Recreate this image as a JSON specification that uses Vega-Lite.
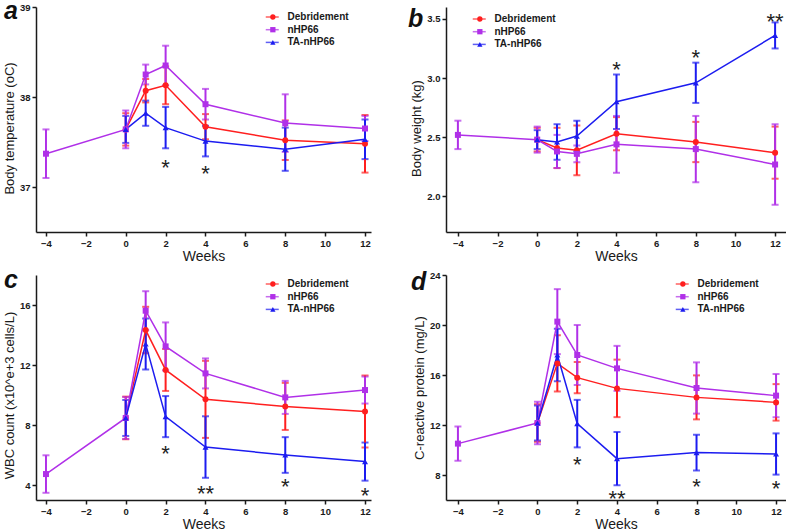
{
  "$schema": "https://vega.github.io/schema/vega-lite/v6.json",
  "padding": {"left": 3, "top": -1, "right": 0, "bottom": 0},
  "background": "white",
  "columns": 2,
  "spacing": {"row": 43, "column": 75},
  "bounds": "flush",
  "resolve": {
    "scale": {"color": "independent", "fill": "independent", "shape": "independent"},
    "legend": {"color": "independent", "fill": "independent", "shape": "independent"}
  },
  "datasets": {
    "a": [
      {"group": "Debridement", "week": 0, "mean": 37.64, "sd": 0.18},
      {"group": "Debridement", "week": 1, "mean": 38.07, "sd": 0.13},
      {"group": "Debridement", "week": 2, "mean": 38.13, "sd": 0.21},
      {"group": "Debridement", "week": 4, "mean": 37.67, "sd": 0.14},
      {"group": "Debridement", "week": 8, "mean": 37.52, "sd": 0.22},
      {"group": "Debridement", "week": 12, "mean": 37.48, "sd": 0.32},
      {"group": "nHP66", "week": -4, "mean": 37.37, "sd": 0.27},
      {"group": "nHP66", "week": 0, "mean": 37.64, "sd": 0.21},
      {"group": "nHP66", "week": 1, "mean": 38.25, "sd": 0.11},
      {"group": "nHP66", "week": 2, "mean": 38.35, "sd": 0.22},
      {"group": "nHP66", "week": 4, "mean": 37.92, "sd": 0.17},
      {"group": "nHP66", "week": 8, "mean": 37.71, "sd": 0.32},
      {"group": "nHP66", "week": 12, "mean": 37.65, "sd": 0.14},
      {"group": "TA-nHP66", "week": 0, "mean": 37.64, "sd": 0.15},
      {"group": "TA-nHP66", "week": 1, "mean": 37.82, "sd": 0.14},
      {"group": "TA-nHP66", "week": 2, "mean": 37.66, "sd": 0.23},
      {"group": "TA-nHP66", "week": 4, "mean": 37.51, "sd": 0.17},
      {"group": "TA-nHP66", "week": 8, "mean": 37.42, "sd": 0.24},
      {"group": "TA-nHP66", "week": 12, "mean": 37.53, "sd": 0.22}
    ],
    "aStars": [
      {"week": 2, "mean": 37.28, "label": "*"},
      {"week": 4, "mean": 37.21, "label": "*"}
    ],
    "b": [
      {"group": "Debridement", "week": 0, "mean": 2.48, "sd": 0.10},
      {"group": "Debridement", "week": 1, "mean": 2.41, "sd": 0.17},
      {"group": "Debridement", "week": 2, "mean": 2.39, "sd": 0.21},
      {"group": "Debridement", "week": 4, "mean": 2.53, "sd": 0.14},
      {"group": "Debridement", "week": 8, "mean": 2.46, "sd": 0.17},
      {"group": "Debridement", "week": 12, "mean": 2.37, "sd": 0.22},
      {"group": "nHP66", "week": -4, "mean": 2.52, "sd": 0.12},
      {"group": "nHP66", "week": 0, "mean": 2.48, "sd": 0.11},
      {"group": "nHP66", "week": 1, "mean": 2.38, "sd": 0.14},
      {"group": "nHP66", "week": 2, "mean": 2.36, "sd": 0.07},
      {"group": "nHP66", "week": 4, "mean": 2.44, "sd": 0.24},
      {"group": "nHP66", "week": 8, "mean": 2.40, "sd": 0.28},
      {"group": "nHP66", "week": 12, "mean": 2.27, "sd": 0.34},
      {"group": "TA-nHP66", "week": 0, "mean": 2.48, "sd": 0.08},
      {"group": "TA-nHP66", "week": 1, "mean": 2.46, "sd": 0.15},
      {"group": "TA-nHP66", "week": 2, "mean": 2.51, "sd": 0.13},
      {"group": "TA-nHP66", "week": 4, "mean": 2.80, "sd": 0.23},
      {"group": "TA-nHP66", "week": 8, "mean": 2.96, "sd": 0.17},
      {"group": "TA-nHP66", "week": 12, "mean": 3.36, "sd": 0.11}
    ],
    "bStars": [
      {"week": 4, "mean": 3.12, "label": "*"},
      {"week": 8, "mean": 3.22, "label": "*"},
      {"week": 12, "mean": 3.52, "label": "**"}
    ],
    "c": [
      {"group": "Debridement", "week": 0, "mean": 8.47, "sd": 1.42},
      {"group": "Debridement", "week": 1, "mean": 14.33, "sd": 1.55},
      {"group": "Debridement", "week": 2, "mean": 11.67, "sd": 1.4},
      {"group": "Debridement", "week": 4, "mean": 9.71, "sd": 2.57},
      {"group": "Debridement", "week": 8, "mean": 9.24, "sd": 1.57},
      {"group": "Debridement", "week": 12, "mean": 8.9, "sd": 2.4},
      {"group": "nHP66", "week": -4, "mean": 4.73, "sd": 1.25},
      {"group": "nHP66", "week": 0, "mean": 8.47, "sd": 1.4},
      {"group": "nHP66", "week": 1, "mean": 15.62, "sd": 1.3},
      {"group": "nHP66", "week": 2, "mean": 13.24, "sd": 1.6},
      {"group": "nHP66", "week": 4, "mean": 11.44, "sd": 1.0},
      {"group": "nHP66", "week": 8, "mean": 9.84, "sd": 1.1},
      {"group": "nHP66", "week": 12, "mean": 10.33, "sd": 0.9},
      {"group": "TA-nHP66", "week": 0, "mean": 8.47, "sd": 1.2},
      {"group": "TA-nHP66", "week": 1, "mean": 13.4, "sd": 1.7},
      {"group": "TA-nHP66", "week": 2, "mean": 8.56, "sd": 1.37},
      {"group": "TA-nHP66", "week": 4, "mean": 6.53, "sd": 2.05},
      {"group": "TA-nHP66", "week": 8, "mean": 6.0, "sd": 1.19},
      {"group": "TA-nHP66", "week": 12, "mean": 5.56, "sd": 1.27}
    ],
    "cStars": [
      {"week": 2, "mean": 6.47, "label": "*"},
      {"week": 4, "mean": 3.82, "label": "**"},
      {"week": 8, "mean": 4.29, "label": "*"},
      {"week": 12, "mean": 3.69, "label": "*"}
    ],
    "d": [
      {"group": "Debridement", "week": 0, "mean": 12.16, "sd": 1.5},
      {"group": "Debridement", "week": 1, "mean": 16.93, "sd": 2.25},
      {"group": "Debridement", "week": 2, "mean": 15.79, "sd": 1.25},
      {"group": "Debridement", "week": 4, "mean": 14.93, "sd": 2.3},
      {"group": "Debridement", "week": 8, "mean": 14.21, "sd": 1.76},
      {"group": "Debridement", "week": 12, "mean": 13.81, "sd": 1.46},
      {"group": "nHP66", "week": -4, "mean": 10.51, "sd": 1.37},
      {"group": "nHP66", "week": 0, "mean": 12.16, "sd": 1.7},
      {"group": "nHP66", "week": 1, "mean": 20.27, "sd": 2.6},
      {"group": "nHP66", "week": 2, "mean": 17.6, "sd": 2.4},
      {"group": "nHP66", "week": 4, "mean": 16.53, "sd": 1.8},
      {"group": "nHP66", "week": 8, "mean": 14.96, "sd": 2.05},
      {"group": "nHP66", "week": 12, "mean": 14.35, "sd": 1.73},
      {"group": "TA-nHP66", "week": 0, "mean": 12.16, "sd": 1.4},
      {"group": "TA-nHP66", "week": 1, "mean": 17.6, "sd": 2.1},
      {"group": "TA-nHP66", "week": 2, "mean": 12.11, "sd": 1.9},
      {"group": "TA-nHP66", "week": 4, "mean": 9.31, "sd": 2.13},
      {"group": "TA-nHP66", "week": 8, "mean": 9.79, "sd": 1.43},
      {"group": "TA-nHP66", "week": 12, "mean": 9.68, "sd": 1.65}
    ],
    "dStars": [
      {"week": 2, "mean": 9.31, "label": "*"},
      {"week": 4, "mean": 6.53, "label": "**"},
      {"week": 8, "mean": 7.52, "label": "*"},
      {"week": 12, "mean": 7.39, "label": "*"}
    ]
  },
  "concat": [
    {
      "width": 335, "height": 225,
      "title": {"text": "a", "anchor": "start", "frame": "group", "orient": "top", "offset": -28, "dx": -32, "dy": 14, "baseline": "alphabetic", "fontSize": 25, "fontWeight": "bold", "fontStyle": "italic", "font": "Liberation Sans", "color": "#111111"},
      "encoding": {
        "x": {"field": "week", "type": "quantitative", "scale": {"domain": [-4.5, 12.3], "nice": false, "zero": false}, "axis": {"values": [-4, -2, 0, 2, 4, 6, 8, 10, 12], "title": "Weeks"}},
        "y": {"field": "mean", "type": "quantitative", "scale": {"domain": [36.5, 39], "nice": false, "zero": false}, "axis": {"values": [37, 38, 39], "title": "Body temperature (oC)", "titleY": 121}}
      },
      "layer": [
        {"data": {"name": "a"}, "mark": {"type": "errorbar", "ticks": {"size": 7}, "thickness": 2},
         "encoding": {"yError": {"field": "sd"}, "color": {"field": "group", "type": "nominal", "scale": {"domain": ["Debridement", "nHP66", "TA-nHP66"], "range": ["#ff1f1f", "#b030e8", "#1c1cf0"]}}}},
        {"data": {"name": "a"}, "mark": {"type": "line", "strokeWidth": 1.5},
         "encoding": {"color": {"field": "group", "type": "nominal", "scale": {"domain": ["Debridement", "nHP66", "TA-nHP66"], "range": ["#ff1f1f", "#b030e8", "#1c1cf0"]},
           "legend": {"orient": "none", "legendX": 231.25, "legendY": 5, "title": null, "symbolType": "M-2,0H2", "symbolSize": 42.25, "symbolStrokeWidth": 1.5, "labelFontSize": 10, "labelFontWeight": "bold", "labelColor": "#1a1a1a", "rowPadding": 2.7, "padding": 0, "labelOffset": 10.25}}}},
        {"data": {"name": "a"}, "mark": {"type": "point", "filled": true, "opacity": 1, "size": 36, "strokeWidth": 0},
         "encoding": {
           "fill": {"field": "group", "type": "nominal", "sort": null, "scale": {"range": ["#ff1f1f", "#b030e8", "#1c1cf0"]},
             "legend": {"orient": "none", "legendX": 231.85, "legendY": 5, "title": null, "symbolSize": 28, "symbolStrokeWidth": 0, "labelFontSize": 10, "labelColor": "rgba(0,0,0,0)", "rowPadding": 2.7, "padding": 0, "labelOffset": 7}},
           "shape": {"field": "group", "type": "nominal", "sort": null, "scale": {"range": ["circle", "square", "triangle-up"]},
             "legend": {"orient": "none", "legendX": 231.85, "legendY": 5, "title": null, "symbolSize": 28, "symbolStrokeWidth": 0, "labelFontSize": 10, "labelColor": "rgba(0,0,0,0)", "rowPadding": 2.7, "padding": 0, "labelOffset": 7}}}},
        {"data": {"name": "aStars"}, "mark": {"type": "text", "fontSize": 22, "dy": 13, "baseline": "alphabetic", "align": "center", "color": "#222222"},
         "encoding": {"text": {"field": "label"}}}
      ]
    },
    {
      "width": 340, "height": 225,
      "title": {"text": "b", "anchor": "start", "frame": "group", "orient": "top", "offset": -28, "dx": -38, "dy": 17, "baseline": "alphabetic", "fontSize": 25, "fontWeight": "bold", "fontStyle": "italic", "font": "Liberation Sans", "color": "#111111"},
      "encoding": {
        "x": {"field": "week", "type": "quantitative", "scale": {"domain": [-4.6, 12.55], "nice": false, "zero": false}, "axis": {"values": [-4, -2, 0, 2, 4, 6, 8, 10, 12], "title": "Weeks"}},
        "y": {"field": "mean", "type": "quantitative", "scale": {"domain": [1.7, 3.6], "nice": false, "zero": false}, "axis": {"values": [2.0, 2.5, 3.0, 3.5], "format": ".1f", "title": "Body weight (kg)", "titleY": 121}}
      },
      "layer": [
        {"data": {"name": "b"}, "mark": {"type": "errorbar", "ticks": {"size": 7}, "thickness": 2},
         "encoding": {"yError": {"field": "sd"}, "color": {"field": "group", "type": "nominal", "scale": {"domain": ["Debridement", "nHP66", "TA-nHP66"], "range": ["#ff1f1f", "#b030e8", "#1c1cf0"]}}}},
        {"data": {"name": "b"}, "mark": {"type": "line", "strokeWidth": 1.5},
         "encoding": {"color": {"field": "group", "type": "nominal", "scale": {"domain": ["Debridement", "nHP66", "TA-nHP66"], "range": ["#ff1f1f", "#b030e8", "#1c1cf0"]},
           "legend": {"orient": "none", "legendX": 28.25, "legendY": 7, "title": null, "symbolType": "M-2,0H2", "symbolSize": 42.25, "symbolStrokeWidth": 1.5, "labelFontSize": 10, "labelFontWeight": "bold", "labelColor": "#1a1a1a", "rowPadding": 2.7, "padding": 0, "labelOffset": 10.25}}}},
        {"data": {"name": "b"}, "mark": {"type": "point", "filled": true, "opacity": 1, "size": 36, "strokeWidth": 0},
         "encoding": {
           "fill": {"field": "group", "type": "nominal", "sort": null, "scale": {"range": ["#ff1f1f", "#b030e8", "#1c1cf0"]},
             "legend": {"orient": "none", "legendX": 28.85, "legendY": 7, "title": null, "symbolSize": 28, "symbolStrokeWidth": 0, "labelFontSize": 10, "labelColor": "rgba(0,0,0,0)", "rowPadding": 2.7, "padding": 0, "labelOffset": 7}},
           "shape": {"field": "group", "type": "nominal", "sort": null, "scale": {"range": ["circle", "square", "triangle-up"]},
             "legend": {"orient": "none", "legendX": 28.85, "legendY": 7, "title": null, "symbolSize": 28, "symbolStrokeWidth": 0, "labelFontSize": 10, "labelColor": "rgba(0,0,0,0)", "rowPadding": 2.7, "padding": 0, "labelOffset": 7}}}},
        {"data": {"name": "bStars"}, "mark": {"type": "text", "fontSize": 22, "dy": 13, "baseline": "alphabetic", "align": "center", "color": "#222222"},
         "encoding": {"text": {"field": "label"}}}
      ]
    },
    {
      "width": 335, "height": 225,
      "title": {"text": "c", "anchor": "start", "frame": "group", "orient": "top", "offset": -28, "dx": -32, "dy": 10, "baseline": "alphabetic", "fontSize": 25, "fontWeight": "bold", "fontStyle": "italic", "font": "Liberation Sans", "color": "#111111"},
      "encoding": {
        "x": {"field": "week", "type": "quantitative", "scale": {"domain": [-4.5, 12.3], "nice": false, "zero": false}, "axis": {"values": [-4, -2, 0, 2, 4, 6, 8, 10, 12], "title": "Weeks"}},
        "y": {"field": "mean", "type": "quantitative", "scale": {"domain": [3, 18], "nice": false, "zero": false}, "axis": {"values": [4, 8, 12, 16], "title": "WBC count (x10^e+3 cells/L)", "titleY": 120}}
      },
      "layer": [
        {"data": {"name": "c"}, "mark": {"type": "errorbar", "ticks": {"size": 7}, "thickness": 2},
         "encoding": {"yError": {"field": "sd"}, "color": {"field": "group", "type": "nominal", "scale": {"domain": ["Debridement", "nHP66", "TA-nHP66"], "range": ["#ff1f1f", "#b030e8", "#1c1cf0"]}}}},
        {"data": {"name": "c"}, "mark": {"type": "line", "strokeWidth": 1.5},
         "encoding": {"color": {"field": "group", "type": "nominal", "scale": {"domain": ["Debridement", "nHP66", "TA-nHP66"], "range": ["#ff1f1f", "#b030e8", "#1c1cf0"]},
           "legend": {"orient": "none", "legendX": 231.25, "legendY": 4, "title": null, "symbolType": "M-2,0H2", "symbolSize": 42.25, "symbolStrokeWidth": 1.5, "labelFontSize": 10, "labelFontWeight": "bold", "labelColor": "#1a1a1a", "rowPadding": 2.7, "padding": 0, "labelOffset": 10.25}}}},
        {"data": {"name": "c"}, "mark": {"type": "point", "filled": true, "opacity": 1, "size": 36, "strokeWidth": 0},
         "encoding": {
           "fill": {"field": "group", "type": "nominal", "sort": null, "scale": {"range": ["#ff1f1f", "#b030e8", "#1c1cf0"]},
             "legend": {"orient": "none", "legendX": 231.85, "legendY": 4, "title": null, "symbolSize": 28, "symbolStrokeWidth": 0, "labelFontSize": 10, "labelColor": "rgba(0,0,0,0)", "rowPadding": 2.7, "padding": 0, "labelOffset": 7}},
           "shape": {"field": "group", "type": "nominal", "sort": null, "scale": {"range": ["circle", "square", "triangle-up"]},
             "legend": {"orient": "none", "legendX": 231.85, "legendY": 4, "title": null, "symbolSize": 28, "symbolStrokeWidth": 0, "labelFontSize": 10, "labelColor": "rgba(0,0,0,0)", "rowPadding": 2.7, "padding": 0, "labelOffset": 7}}}},
        {"data": {"name": "cStars"}, "mark": {"type": "text", "fontSize": 22, "dy": 13, "baseline": "alphabetic", "align": "center", "color": "#222222"},
         "encoding": {"text": {"field": "label"}}}
      ]
    },
    {
      "width": 340, "height": 225,
      "title": {"text": "d", "anchor": "start", "frame": "group", "orient": "top", "offset": -28, "dx": -35, "dy": 17, "baseline": "alphabetic", "fontSize": 25, "fontWeight": "bold", "fontStyle": "italic", "font": "Liberation Sans", "color": "#111111"},
      "encoding": {
        "x": {"field": "week", "type": "quantitative", "scale": {"domain": [-4.6, 12.5], "nice": false, "zero": false}, "axis": {"values": [-4, -2, 0, 2, 4, 6, 8, 10, 12], "title": "Weeks"}},
        "y": {"field": "mean", "type": "quantitative", "scale": {"domain": [6, 24], "nice": false, "zero": false}, "axis": {"values": [8, 12, 16, 20, 24], "title": "C-reactive protein (mg/L)"}}
      },
      "layer": [
        {"data": {"name": "d"}, "mark": {"type": "errorbar", "ticks": {"size": 7}, "thickness": 2},
         "encoding": {"yError": {"field": "sd"}, "color": {"field": "group", "type": "nominal", "scale": {"domain": ["Debridement", "nHP66", "TA-nHP66"], "range": ["#ff1f1f", "#b030e8", "#1c1cf0"]}}}},
        {"data": {"name": "d"}, "mark": {"type": "line", "strokeWidth": 1.5},
         "encoding": {"color": {"field": "group", "type": "nominal", "scale": {"domain": ["Debridement", "nHP66", "TA-nHP66"], "range": ["#ff1f1f", "#b030e8", "#1c1cf0"]},
           "legend": {"orient": "none", "legendX": 231.25, "legendY": 4, "title": null, "symbolType": "M-2,0H2", "symbolSize": 42.25, "symbolStrokeWidth": 1.5, "labelFontSize": 10, "labelFontWeight": "bold", "labelColor": "#1a1a1a", "rowPadding": 2.7, "padding": 0, "labelOffset": 10.25}}}},
        {"data": {"name": "d"}, "mark": {"type": "point", "filled": true, "opacity": 1, "size": 36, "strokeWidth": 0},
         "encoding": {
           "fill": {"field": "group", "type": "nominal", "sort": null, "scale": {"range": ["#ff1f1f", "#b030e8", "#1c1cf0"]},
             "legend": {"orient": "none", "legendX": 231.85, "legendY": 4, "title": null, "symbolSize": 28, "symbolStrokeWidth": 0, "labelFontSize": 10, "labelColor": "rgba(0,0,0,0)", "rowPadding": 2.7, "padding": 0, "labelOffset": 7}},
           "shape": {"field": "group", "type": "nominal", "sort": null, "scale": {"range": ["circle", "square", "triangle-up"]},
             "legend": {"orient": "none", "legendX": 231.85, "legendY": 4, "title": null, "symbolSize": 28, "symbolStrokeWidth": 0, "labelFontSize": 10, "labelColor": "rgba(0,0,0,0)", "rowPadding": 2.7, "padding": 0, "labelOffset": 7}}}},
        {"data": {"name": "dStars"}, "mark": {"type": "text", "fontSize": 22, "dy": 13, "baseline": "alphabetic", "align": "center", "color": "#222222"},
         "encoding": {"text": {"field": "label"}}}
      ]
    }
  ],
  "config": {
    "view": {"stroke": null},
    "font": "Liberation Sans",
    "axis": {
      "grid": false,
      "domainColor": "#1a1a1a", "domainWidth": 1.5,
      "tickColor": "#1a1a1a", "tickWidth": 1.5, "tickSize": 4,
      "labelFont": "Liberation Sans", "labelFontSize": 9.5, "labelFontWeight": "bold", "labelColor": "#1a1a1a", "labelPadding": 2, "labelFlush": false,
      "titleFont": "Liberation Sans", "titleFontWeight": "normal", "titleColor": "#1a1a1a"
    },
    "axisX": {"titleFontSize": 14, "titlePadding": 2},
    "axisY": {"titleFontSize": 13, "titlePadding": 3},
    "legend": {"labelFont": "Liberation Sans"}
  }
}
